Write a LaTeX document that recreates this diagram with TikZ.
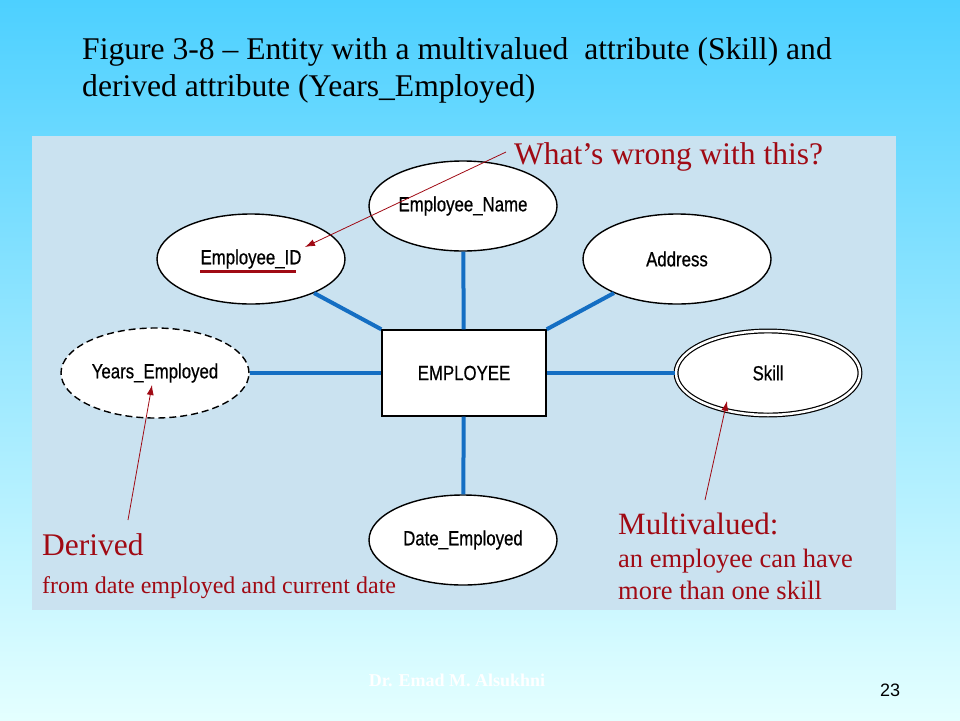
\documentclass[tikz,border=0pt]{standalone}
\usepackage{fontspec}
\setmainfont{Liberation Serif}
\newfontfamily\nsans[FakeStretch=0.82,FakeBold=0.6]{Liberation Sans}
\newfontfamily\asans{Liberation Sans}
\usetikzlibrary{shapes.geometric,arrows.meta}
\definecolor{bgtop}{RGB}{77,208,255}
\definecolor{bgbot}{RGB}{228,255,255}
\definecolor{panel}{RGB}{202,226,240}
\definecolor{conn}{RGB}{20,110,195}
\definecolor{dred}{RGB}{160,10,20}
\tikzset{
  attr/.style={ellipse,draw=black,line width=1.4pt,fill=white,minimum width=188pt,minimum height=90pt,inner sep=0pt,font=\nsans\fontsize{20.5}{22}\selectfont},
  ent/.style={rectangle,draw=black,line width=1.4pt,fill=white,minimum width=164pt,minimum height=86pt,inner sep=0pt,font=\nsans\fontsize{20.5}{22}\selectfont},
  link/.style={conn,line width=4pt},
  note/.style={dred,line width=0.8pt,-{Latex[length=10pt,width=7pt]}},
  rtext/.style={dred,anchor=base west,inner sep=0pt},
}
\begin{document}
\begin{tikzpicture}[x=1pt,y=-1pt]
\useasboundingbox (0,0) rectangle (960,720);
\shade[top color=bgtop,bottom color=bgbot] (0,0) rectangle (960,720);
\fill[panel] (32,136) rectangle (896,610);
% title
\node[anchor=base west,inner sep=0pt,font=\fontsize{31.6}{33}\selectfont] (t1) at (82,59) {Figure 3-8 -- Entity with a multivalued\ \ attribute (Skill) and};
\node[anchor=base west,inner sep=0pt,font=\fontsize{31.6}{33}\selectfont] (t2) at (82,96) {derived attribute (Years\_Employed)};
% entity and attributes
\node[ent] (emp) at (464,373) {EMPLOYEE};
\node[attr] (ename) at (463,206) {Employee\_Name};
\node[attr] (eid) at (251,259) {Employee\_ID};
\node[attr] (addr) at (677,259) {Address};
\node[attr,dashed,dash pattern=on 7pt off 4pt] (years) at (155,373) {Years\_Employed};
\node[attr,double=white,double distance=2.5pt,line width=1.2pt,minimum width=184pt,minimum height=84pt] (skill) at (768,373) {Skill};
\node[attr] (date) at (463,540) {Date\_Employed};
\draw[dred,line width=3pt] (200,271) -- (296,271);
% connectors
\draw[link] (ename) -- (emp);
\draw[link] (eid) -- (emp.north west);
\draw[link] (addr) -- (emp.north east);
\draw[link] (years) -- (emp);
\draw[link] (skill) -- (emp);
\draw[link] (emp) -- (date);
% notes
\node[rtext,font=\fontsize{31.5}{34}\selectfont] (wrong) at (514,164) {What’s wrong with this?};
\coordinate (w0) at (506,152);
\coordinate (w1) at (305,247);
\draw[note] (w0) -- (w1);
\node[rtext,font=\fontsize{31.5}{34}\selectfont] (derived) at (42,555) {Derived};
\node[rtext,font=\fontsize{24}{26}\selectfont] (dfrom) at (42,593) {from date employed and current date};
\coordinate (d0) at (128,520);
\coordinate (d1) at (152,385);
\draw[note] (d0) -- (d1);
\node[rtext,font=\fontsize{31}{34}\selectfont] (multi) at (618,534) {Multivalued:};
\node[rtext,font=\fontsize{26.5}{28}\selectfont] (m1) at (618,567) {an employee can have};
\node[rtext,font=\fontsize{26.5}{28}\selectfont] (m2) at (618,599) {more than one skill};
\coordinate (s0) at (705,500);
\coordinate (s1) at (727,401);
\draw[note] (s0) -- (s1);
% footer
\node[anchor=base,inner sep=0pt,white,font=\bfseries\fontsize{18}{20}\selectfont] (author) at (457,686) {Dr. Emad M. Alsukhni};
\node[anchor=base west,inner sep=0pt,font=\asans\fontsize{18}{20}\selectfont] (pg) at (880,696) {23};
\end{tikzpicture}
\end{document}
